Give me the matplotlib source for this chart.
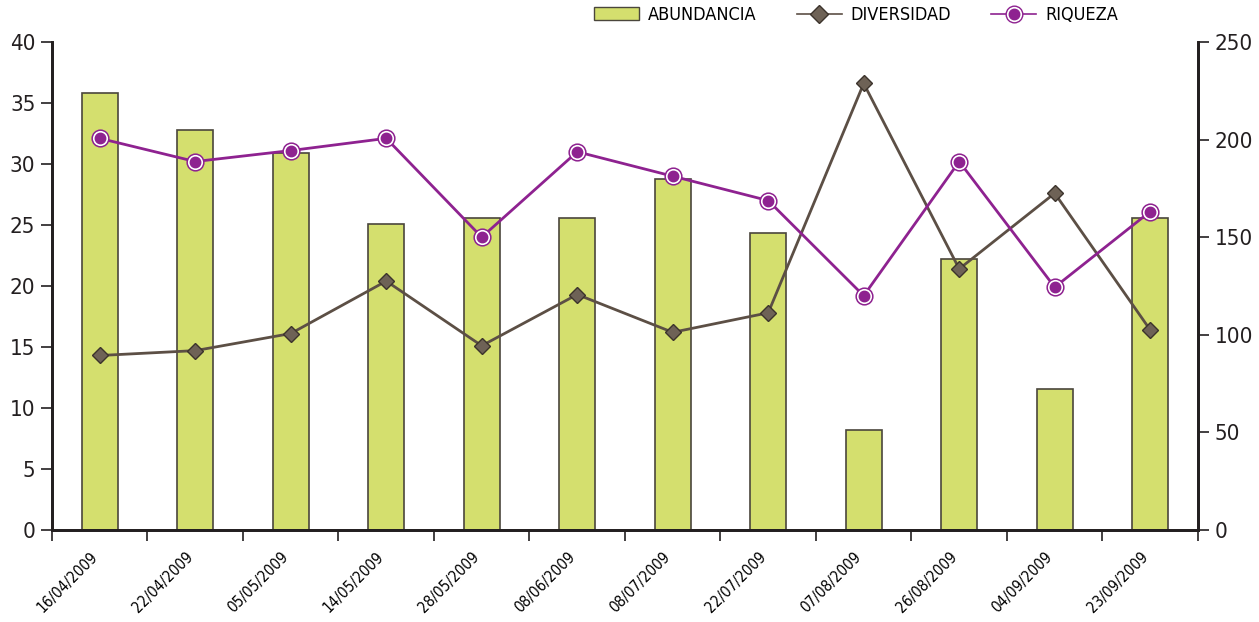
import numpy as np
import matplotlib.pyplot as plt
import matplotlib.transforms as mtransforms
from matplotlib.lines import Line2D
from matplotlib.patches import Patch

fechas = ["16/04/2009", "22/04/2009", "05/05/2009", "14/05/2009", "28/05/2009",
          "08/06/2009", "08/07/2009", "22/07/2009", "07/08/2009", "26/08/2009",
          "04/09/2009", "23/09/2009"]
abundancia = [224, 205, 193, 157, 160, 160, 180, 152, 51, 139, 72, 160]
diversidad = [14.3, 14.7, 16.1, 20.4, 15.1, 19.3, 16.2, 17.8, 36.6, 21.4, 27.6, 16.4]
riqueza = [32.1, 30.2, 31.1, 32.1, 24.0, 31.0, 29.0, 27.0, 19.2, 30.2, 19.9, 26.1]

plt.rcParams['font.family'] = ['DejaVu Sans']
plt.rcParams['font.stretch'] = 'condensed'

BAR_C = "#d4df6e"
EDGE_C = "#4a463c"
DIV_C = "#5c4f45"
DIV_FACE = "#6e6256"
RIQ_C = "#8e2290"
AX_C = "#231f20"

fig = plt.figure(figsize=(12.59, 6.22), dpi=100)
ax = fig.add_axes([0.0413, 0.148, 0.9102, 0.7845])
ax2 = ax.twinx()
ax.set_zorder(ax2.get_zorder() + 1)
ax.patch.set_visible(False)

x = np.arange(len(fechas))
ax2.bar(x, abundancia, width=0.375, color=BAR_C, edgecolor=EDGE_C, linewidth=1.2)

ax.plot(x, diversidad, color=DIV_C, lw=2, marker="D", ms=8,
        mfc=DIV_FACE, mec="#3c332c", mew=1)
ax.plot(x, riqueza, color=RIQ_C, lw=2, marker="o", ms=12,
        mfc="white", mec=RIQ_C, mew=1.1)
ax.plot(x, riqueza, ls="none", marker="o", ms=7.5, mfc=RIQ_C, mec=RIQ_C)

ax.set_xlim(-0.5, len(fechas) - 0.5)
ax.set_ylim(0, 40)
ax2.set_ylim(0, 250)
ax.set_yticks(np.arange(0, 41, 5))
ax2.set_yticks(np.arange(0, 251, 50))

ax.set_xticks(x)
ax.set_xticklabels(fechas, rotation=45, ha="right", rotation_mode="anchor", fontsize=11)
ax.tick_params(axis="x", which="major", length=0, pad=14)
shift = mtransforms.ScaledTranslation(-10 / 100, 0, fig.dpi_scale_trans)
for lbl in ax.get_xticklabels():
    lbl.set_transform(lbl.get_transform() + shift)
ax.set_xticks(np.arange(-0.5, len(fechas)), minor=True)
ax.tick_params(axis="x", which="minor", length=8, width=1.2, color=AX_C)

for a in (ax, ax2):
    a.spines["top"].set_visible(False)
    for s in ("left", "right", "bottom"):
        a.spines[s].set_linewidth(2)
        a.spines[s].set_color(AX_C)
    a.tick_params(axis="y", length=8, width=1.2, labelsize=16, colors=AX_C, pad=4)

ax2.tick_params(axis="x", which="both", length=0)

handles = [
    Patch(facecolor=BAR_C, edgecolor=EDGE_C, linewidth=1),
    Line2D([], [], color=DIV_C, lw=1.2, marker="D", ms=9, mfc=DIV_FACE, mec="#3c332c"),
    (Line2D([], [], color=RIQ_C, lw=1.2, marker="o", ms=12, mfc="white", mec=RIQ_C),
     Line2D([], [], ls="none", marker="o", ms=7.5, mfc=RIQ_C, mec=RIQ_C)),
]
fig.legend(handles, ["ABUNDANCIA", "DIVERSIDAD", "RIQUEZA"], ncol=3, frameon=False,
           loc="center", bbox_to_anchor=(0.68, 0.976), fontsize=13, handlelength=2.5,
           columnspacing=2.2, handletextpad=0.5)

fig.savefig("out.png", dpi=100)
